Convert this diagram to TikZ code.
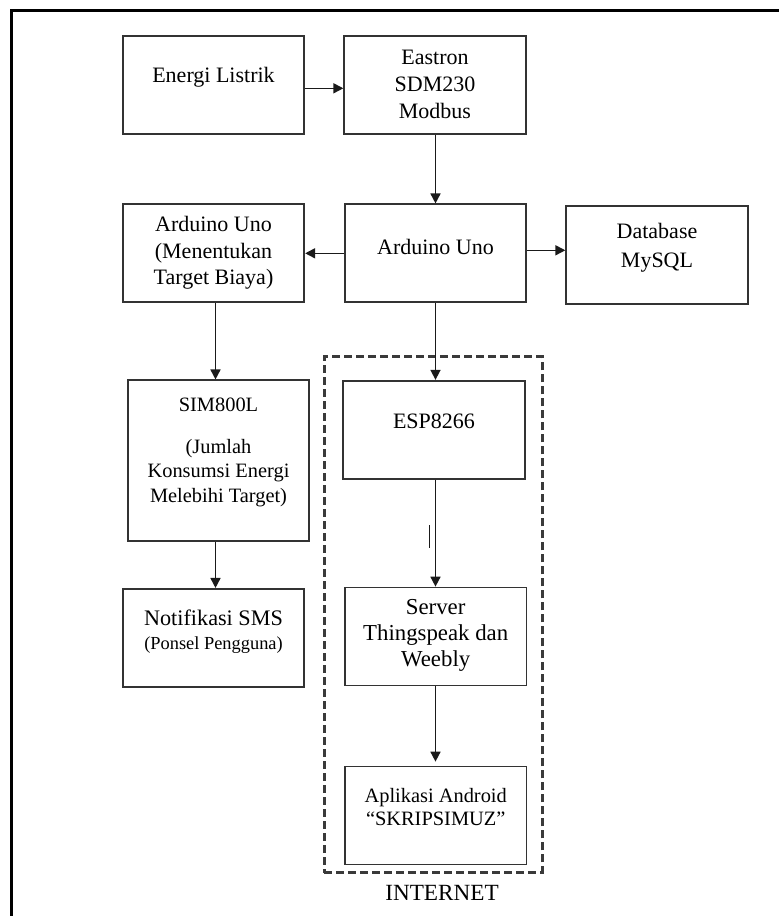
\documentclass[tikz,border=0pt]{standalone}
\usepackage{fontspec}
\setmainfont{Liberation Serif}
\usetikzlibrary{arrows.meta}
\definecolor{linec}{HTML}{1A1A1A}
\definecolor{boxc}{HTML}{333333}
\definecolor{dashc}{HTML}{3A3A3A}
\begin{document}
\begin{tikzpicture}[x=0.5pt,y=-0.5pt,
  box/.style={draw=boxc, line width=0.85pt, minimum width=90.8pt, minimum height=49pt, inner sep=0pt},
  txt/.style={align=center, inner sep=0pt, font=\fontsize{11}{13.3}\selectfont},
  arr/.style={draw=linec, line width=0.8pt, -{Triangle[length=5pt,width=5pt]}},
  dashbox/.style={draw=dashc, line width=1.5pt, dash pattern=on 4pt off 2pt, minimum width=108.85pt, minimum height=258pt, inner sep=0pt}]
\useasboundingbox (0,0) rectangle (779,916);
\draw[line width=1.6pt, draw=black] (11.5,916) -- (11.5,10.5) -- (779,10.5);

% boxes
\node[box] (en) at (213.5,85) {};
\node[box] (ea) at (435,85) {};
\node[box] (al) at (213.5,253.3) {};
\node[box] (ar) at (435.5,253.3) {};
\node[box] (db) at (657,255) {};
\node[box, minimum height=80.5pt] (sim) at (218.5,460.8) {};
\node[box] (esp) at (434,429.7) {};
\node[box] (notif) at (213.5,637.8) {};
\node[box] (srv) at (435.7,636.5) {};
\node[box] (app) at (435.7,815.5) {};
\node[dashbox] (inet) at (433.2,614.7) {};

% texts
\node[txt] (ten) at (213.5,77) {Energi Listrik};
\node[txt, font=\fontsize{11}{13.35}\selectfont] (tea) at (435,84.6) {Eastron\\SDM230\\Modbus};
\node[txt, font=\fontsize{11}{13.2}\selectfont] (tal) at (213.5,253) {Arduino Uno\\(Menentukan\\Target Biaya)};
\node[txt] (tar) at (435.5,246.7) {Arduino Uno};
\node[txt, font=\fontsize{11}{14.7}\selectfont] (tdb) at (657,248) {Database\\MySQL};
\node[txt, font=\fontsize{10.2}{12.35}\selectfont] (tsim) at (218.5,452.5) {SIM800L\\[8.5pt](Jumlah\\Konsumsi Energi\\Melebihi Target)};
\node[txt] (tesp) at (434,421.7) {ESP8266};
\node[txt, font=\fontsize{11.1}{12}\selectfont] (tnot) at (213.5,631.3) {Notifikasi SMS\\{\fontsize{9.2}{11}\selectfont (Ponsel Pengguna)}};
\node[txt, font=\fontsize{11.4}{13}\selectfont] (tsrv) at (435.7,635.5) {Server\\Thingspeak dan\\Weebly};
\node[txt, font=\fontsize{10.2}{11.65}\selectfont] (tapp) at (435.7,806.7) {Aplikasi Android\\“SKRIPSIMUZ”};
\node[txt, font=\fontsize{11.6}{13}\selectfont] (tinet) at (442,893) {INTERNET};

% connectors
\coordinate (xl) at (215.5,0);
\coordinate (xr) at (435.5,0);
\draw[arr] ([yshift=-1.65pt]en.east) -- ([yshift=-1.65pt]ea.west);
\draw[arr] (ea.south -| xr) -- (ar.north -| xr);
\draw[arr] (ar.west) -- (al.east);
\draw[arr] ([yshift=1.5pt]ar.east) -- ([yshift=1.5pt]ar.east -| db.west);
\draw[arr] (al.south -| xl) -- (sim.north -| xl);
\draw[arr] (sim.south -| xl) -- (notif.north -| xl);
\draw[arr] (ar.south -| xr) -- (esp.north -| xr);
\draw[arr] (esp.south -| xr) -- (srv.north -| xr);
\draw[arr] (srv.south -| xr) -- ([yshift=2pt]app.north -| xr);
\draw[line width=0.6pt, draw=linec] (429.3,525) -- (429.3,548);
\end{tikzpicture}
\end{document}
